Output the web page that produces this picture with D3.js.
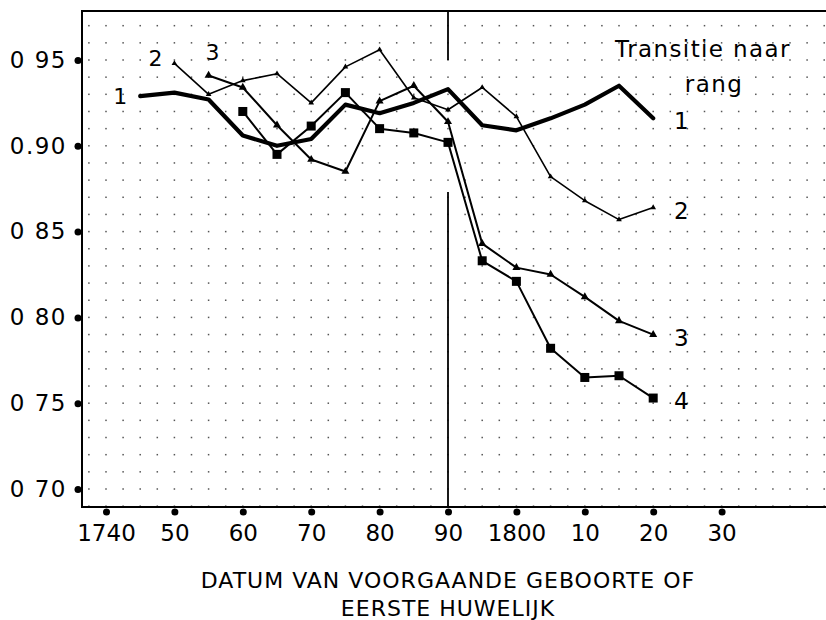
<!DOCTYPE html>
<html>
<head>
<meta charset="utf-8">
<script src="https://cdn.jsdelivr.net/npm/d3@7"></script>
<style>
  html, body { margin: 0; padding: 0; background: #fff; }
  svg text { font-family: "DejaVu Sans", sans-serif; fill: #000; }
</style>
</head>
<body>
<div id="chart"></div>
<script>
// tick labels
const xTicks = [1740, 1750, 1760, 1770, 1780, 1790, 1800, 1810, 1820, 1830];
const xTickLabels = ['1740', '50', '60', '70', '80', '90', '1800', '10', '20', '30'];
const yTicks = [0.70, 0.75, 0.80, 0.85, 0.90, 0.95];
const yTickLabels = ['0 70', '0 75', '0 80', '0 85', '0.90', '0 95'];

// series: transition to parity 1..4
const years1 = [1745, 1750, 1755, 1760, 1765, 1770, 1775, 1780, 1785, 1790, 1795, 1800, 1805, 1810, 1815, 1820];
const rank1 = [0.929, 0.931, 0.927, 0.906, 0.900, 0.904, 0.924, 0.919, 0.925, 0.933, 0.912, 0.909, 0.916, 0.924, 0.935, 0.916];

const years2 = [1750, 1755, 1760, 1765, 1770, 1775, 1780, 1785, 1790, 1795, 1800, 1805, 1810, 1815, 1820];
const rank2 = [0.948, 0.930, 0.938, 0.942, 0.925, 0.946, 0.956, 0.928, 0.921, 0.934, 0.917, 0.882, 0.868, 0.857, 0.864];

const years3 = [1755, 1760, 1765, 1770, 1775, 1780, 1785, 1790, 1795, 1800, 1805, 1810, 1815, 1820];
const rank3 = [0.941, 0.934, 0.912, 0.892, 0.885, 0.926, 0.935, 0.914, 0.843, 0.829, 0.825, 0.812, 0.798, 0.790];

const years4 = [1760, 1765, 1770, 1775, 1780, 1785, 1790, 1795, 1800, 1805, 1810, 1815, 1820];
const rank4 = [0.920, 0.895, 0.9115, 0.931, 0.910, 0.9075, 0.902, 0.833, 0.821, 0.782, 0.765, 0.766, 0.753];

const seriesNames = ['1', '2', '3', '4'];
const legendTitle = ['Transitie naar', 'rang'];
const xTitle = ['DATUM VAN VOORGAANDE GEBOORTE OF', 'EERSTE HUWELIJK'];

const width = 826, height = 620;

const svg = d3.select('#chart').append('svg')
  .attr('width', width)
  .attr('height', height);

const x = d3.scaleLinear().domain([1740, 1830]).range([106, 721.6]);
const y = d3.scaleLinear().domain([0.70, 0.95]).range([489, 60]);

// plot frame bounds (in data units)
const xMin = x.invert(82), xMax = x.invert(826);
const yMin = y.invert(507), yMax = y.invert(11);

// dotted background grid
const gridX = d3.range(1737.5, xMax, 2.5);
const gridY = d3.range(0.69, yMax, 0.01);
const grid = svg.append('g');
gridX.forEach(gx => {
  gridY.forEach(gy => {
    grid.append('rect')
      .attr('x', x(gx) - 0.75)
      .attr('y', y(gy) - 0.75)
      .attr('width', 1.5)
      .attr('height', 1.5)
      .attr('fill', '#555');
  });
});

// frame: top, left, bottom
const frame = d3.line().x(d => x(d[0])).y(d => y(d[1]));
svg.append('path')
  .attr('d', frame([[xMax, yMax], [xMin, yMax], [xMin, yMin], [xMax, yMin]]))
  .attr('fill', 'none')
  .attr('stroke', '#000')
  .attr('stroke-width', 2);

// vertical marker at 1790, broken where the curves pass
svg.append('line')
  .attr('x1', x(1790)).attr('x2', x(1790))
  .attr('y1', y(yMax)).attr('y2', 60)
  .attr('stroke', '#000').attr('stroke-width', 1.8);
svg.append('line')
  .attr('x1', x(1790)).attr('x2', x(1790))
  .attr('y1', 192).attr('y2', y(yMin))
  .attr('stroke', '#000').attr('stroke-width', 1.8);

// x axis
const xAxis = svg.append('g')
  .attr('transform', `translate(0,${y(yMin)})`)
  .call(d3.axisBottom(x).tickValues(xTicks).tickSize(0).tickPadding(18)
    .tickFormat((d, i) => xTickLabels[i]));
xAxis.select('.domain').remove();
xAxis.selectAll('text').style('font-size', '23px').style('font-family', '"DejaVu Sans", sans-serif');
xAxis.selectAll('.tick').append('circle')
  .attr('cy', 5).attr('r', 3.5).attr('fill', '#000');

// y axis
const yAxis = svg.append('g')
  .attr('transform', `translate(${x(xMin)},0)`)
  .call(d3.axisLeft(y).tickValues(yTicks).tickSize(0).tickPadding(15)
    .tickFormat((d, i) => yTickLabels[i]));
yAxis.select('.domain').remove();
yAxis.selectAll('text').style('font-size', '23px').style('letter-spacing', '1.5px')
  .style('font-family', '"DejaVu Sans", sans-serif');
yAxis.selectAll('.tick').append('circle')
  .attr('cx', -4).attr('r', 3.5).attr('fill', '#000');

// series
const line = d3.line().x(d => x(d[0])).y(d => y(d[1]));
const zip = (a, b) => a.map((v, i) => [v, b[i]]);
const s1 = zip(years1, rank1), s2 = zip(years2, rank2), s3 = zip(years3, rank3), s4 = zip(years4, rank4);

svg.append('path').datum(s2)
  .attr('d', line).attr('fill', 'none').attr('stroke', '#000')
  .attr('stroke-width', 1.6).attr('stroke-linejoin', 'round');
svg.append('path').datum(s3)
  .attr('d', line).attr('fill', 'none').attr('stroke', '#000')
  .attr('stroke-width', 2).attr('stroke-linejoin', 'round');
svg.append('path').datum(s4)
  .attr('d', line).attr('fill', 'none').attr('stroke', '#000')
  .attr('stroke-width', 2).attr('stroke-linejoin', 'round');
svg.append('path').datum(s1)
  .attr('d', line).attr('fill', 'none').attr('stroke', '#000')
  .attr('stroke-width', 4.2).attr('stroke-linejoin', 'round').attr('stroke-linecap', 'round');

// markers
const tri = d3.symbol().type(d3.symbolTriangle);
svg.append('g').selectAll('path').data(s2).join('path')
  .attr('transform', d => `translate(${x(d[0])},${y(d[1])})`)
  .attr('d', tri.size(14)).attr('fill', '#000');
svg.append('g').selectAll('path').data(s3).join('path')
  .attr('transform', d => `translate(${x(d[0])},${y(d[1])})`)
  .attr('d', tri.size(28)).attr('fill', '#000');
svg.append('g').selectAll('rect').data(s4).join('rect')
  .attr('x', d => x(d[0]) - 4.5).attr('y', d => y(d[1]) - 4.5)
  .attr('width', 9).attr('height', 9).attr('fill', '#000');

// series labels at start and end
const all = [s1, s2, s3, s4];
const startOff = [[-20, 0], [-19, -5], [4, -23]];
startOff.forEach((o, i) => {
  const p = all[i][0];
  svg.append('text')
    .attr('x', x(p[0]) + o[0]).attr('y', y(p[1]) + o[1])
    .attr('dy', '0.35em').attr('text-anchor', 'middle')
    .style('font-size', '22px')
    .text(seriesNames[i]);
});
all.forEach((s, i) => {
  const p = s[s.length - 1];
  svg.append('text')
    .attr('x', x(p[0]) + 28).attr('y', y(p[1]) + 3)
    .attr('dy', '0.35em').attr('text-anchor', 'middle')
    .style('font-size', '23px')
    .text(seriesNames[i]);
});

// legend title
legendTitle.forEach((t, i) => {
  svg.append('text')
    .attr('x', i === 0 ? 703 : 714).attr('y', 49 + i * 35)
    .attr('dy', '0.35em').attr('text-anchor', 'middle')
    .style('font-size', '23px').style('letter-spacing', '1.4px')
    .text(t);
});

// x axis title
xTitle.forEach((t, i) => {
  svg.append('text')
    .attr('x', 448).attr('y', 580 + i * 28)
    .attr('dy', '0.35em').attr('text-anchor', 'middle')
    .style('font-size', '22px').style('letter-spacing', '1px')
    .text(t);
});
</script>
</body>
</html>
